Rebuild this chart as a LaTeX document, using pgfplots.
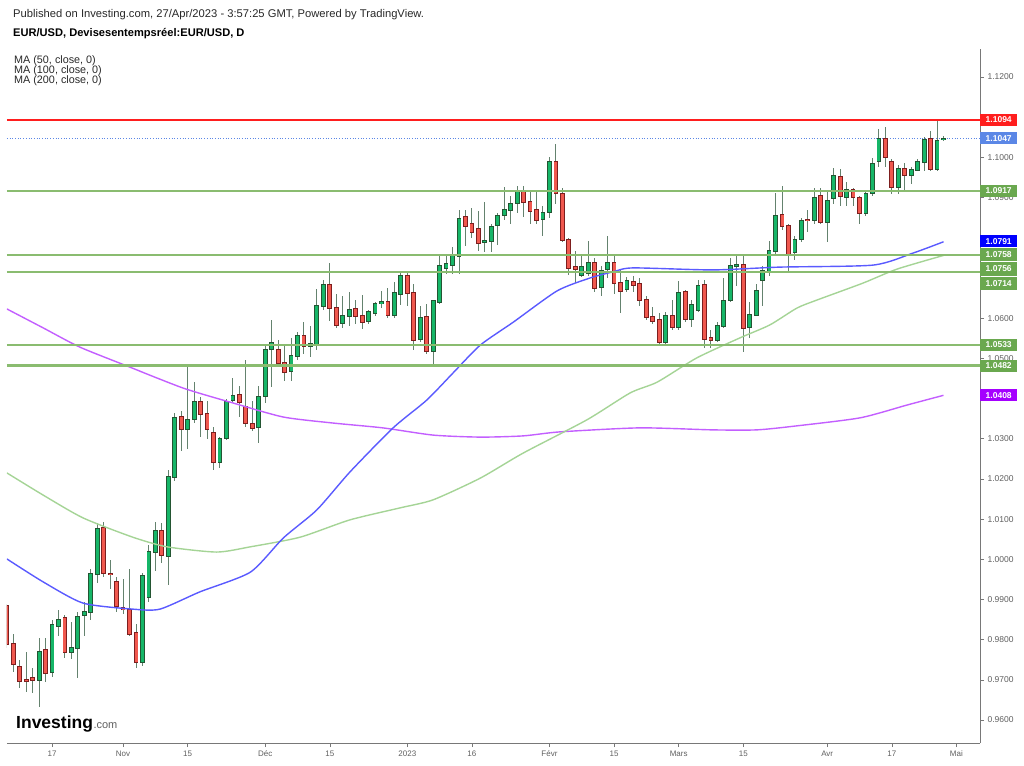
\documentclass[border=0pt]{standalone}
\usepackage{pgfplots}
\usepackage{pgfplotstable}
\pgfplotsset{compat=1.18}
\usepackage{fontspec}
\setmainfont{Liberation Sans}

\definecolor{gfill}{RGB}{22,182,104}
\definecolor{gedge}{RGB}{35,85,50}
\definecolor{rfill}{RGB}{240,88,78}
\definecolor{redge}{RGB}{125,30,30}
\definecolor{wick}{RGB}{100,130,110}
\definecolor{maA}{RGB}{90,90,255}
\definecolor{maB}{RGB}{165,212,150}
\definecolor{maC}{RGB}{195,95,255}
\definecolor{hgreen}{RGB}{138,188,112}
\definecolor{bgreen}{RGB}{106,168,79}
\definecolor{lvlred}{RGB}{255,30,30}
\definecolor{bcur}{RGB}{91,135,230}
\definecolor{bblue}{RGB}{0,0,255}
\definecolor{bpurple}{RGB}{165,0,255}
\definecolor{axgray}{RGB}{120,120,120}
\definecolor{labgray}{RGB}{95,95,95}
\definecolor{hdr}{RGB}{40,40,40}

\pgfplotstableread{
x o h l c
-7 0.9885 0.9890 0.9780 0.9790
-6 0.9790 0.9815 0.9720 0.9740
-5 0.9732 0.9750 0.9680 0.9698
-4 0.9700 0.9769 0.9670 0.9697
-3 0.9705 0.9730 0.9667 0.9700
-2 0.9700 0.9805 0.9632 0.9770
-1 0.9775 0.9805 0.9695 0.9718
0 0.9720 0.9850 0.9707 0.9838
1 0.9835 0.9873 0.9810 0.9850
2 0.9855 0.9862 0.9755 0.9768
3 0.9770 0.9845 0.9752 0.9780
4 0.9780 0.9868 0.9705 0.9858
5 0.9862 0.9895 0.9808 0.9870
6 0.9868 0.9976 0.9848 0.9965
7 0.9963 1.0090 0.9941 1.0075
8 1.0078 1.0093 0.9955 0.9965
9 0.9965 0.9998 0.9925 0.9962
10 0.9945 0.9955 0.9870 0.9883
11 0.9880 0.9952 0.9865 0.9875
12 0.9875 0.9975 0.9810 0.9815
13 0.9817 0.9840 0.9730 0.9745
14 0.9745 0.9965 0.9735 0.9960
15 0.9905 1.0035 0.9895 1.0018
16 1.0018 1.0093 0.9972 1.0070
17 1.0072 1.0090 0.9992 1.0010
18 1.0008 1.0222 0.9935 1.0205
19 1.0205 1.0365 1.0195 1.0352
20 1.0355 1.0370 1.0270 1.0325
21 1.0325 1.0480 1.0275 1.0348
22 1.0350 1.0440 1.0340 1.0392
23 1.0392 1.0405 1.0305 1.0362
24 1.0362 1.0395 1.0300 1.0325
25 1.0315 1.0330 1.0222 1.0242
26 1.0242 1.0305 1.0226 1.0300
27 1.0302 1.0400 1.0298 1.0392
28 1.0395 1.0450 1.0390 1.0407
29 1.0408 1.0430 1.0355 1.0392
30 1.0380 1.0497 1.0330 1.0338
31 1.0337 1.0395 1.0320 1.0327
32 1.0328 1.0430 1.0290 1.0405
33 1.0405 1.0530 1.0390 1.0522
34 1.0522 1.0595 1.0430 1.0538
35 1.0520 1.0545 1.0478 1.0488
36 1.0490 1.0535 1.0443 1.0467
37 1.0467 1.0550 1.0443 1.0505
38 1.0505 1.0565 1.0497 1.0555
39 1.0555 1.0590 1.0510 1.0530
40 1.0530 1.0580 1.0503 1.0535
41 1.0532 1.0673 1.0520 1.0630
42 1.0630 1.0695 1.0620 1.0682
43 1.0682 1.0737 1.0592 1.0625
44 1.0625 1.0660 1.0575 1.0582
45 1.0588 1.0655 1.0575 1.0605
46 1.0605 1.0665 1.0580 1.0620
47 1.0622 1.0645 1.0585 1.0605
48 1.0605 1.0658 1.0573 1.0590
49 1.0592 1.0620 1.0585 1.0615
50 1.0612 1.0640 1.0605 1.0635
51 1.0637 1.0668 1.0625 1.0640
52 1.0640 1.0675 1.0600 1.0607
53 1.0608 1.0690 1.0600 1.0663
54 1.0660 1.0715 1.0633 1.0705
55 1.0705 1.0712 1.0630 1.0662
56 1.0662 1.0685 1.0520 1.0546
57 1.0548 1.0630 1.0540 1.0600
58 1.0603 1.0635 1.0512 1.0518
59 1.0518 1.0645 1.0482 1.0643
60 1.0640 1.0760 1.0635 1.0730
61 1.0725 1.0760 1.0710 1.0735
62 1.0733 1.0777 1.0710 1.0755
63 1.0755 1.0868 1.0710 1.0848
64 1.0853 1.0870 1.0780 1.0828
65 1.0835 1.0875 1.0800 1.0815
66 1.0822 1.0867 1.0767 1.0787
67 1.0790 1.0888 1.0765 1.0792
68 1.0792 1.0835 1.0765 1.0828
69 1.0832 1.0862 1.0782 1.0855
70 1.0857 1.0927 1.0845 1.0870
71 1.0870 1.0905 1.0835 1.0885
72 1.0885 1.0930 1.0862 1.0915
73 1.0915 1.0930 1.0852 1.0890
74 1.0890 1.0920 1.0835 1.0867
75 1.0870 1.0915 1.0835 1.0845
76 1.0847 1.0880 1.0805 1.0862
77 1.0863 1.1000 1.0850 1.0988
78 1.0988 1.1033 1.0885 1.0910
79 1.0910 1.0925 1.0790 1.0795
80 1.0795 1.0800 1.0708 1.0725
81 1.0727 1.0768 1.0687 1.0722
82 1.0708 1.0760 1.0703 1.0727
83 1.0712 1.0793 1.0705 1.0737
84 1.0737 1.0750 1.0665 1.0675
85 1.0678 1.0730 1.0655 1.0718
86 1.0722 1.0805 1.0700 1.0738
87 1.0738 1.0760 1.0660 1.0688
88 1.0687 1.0720 1.0613 1.0667
89 1.0673 1.0703 1.0665 1.0693
90 1.0690 1.0705 1.0665 1.0683
91 1.0685 1.0700 1.0630 1.0645
92 1.0645 1.0655 1.0595 1.0603
93 1.0603 1.0628 1.0585 1.0593
94 1.0595 1.0612 1.0535 1.0540
95 1.0540 1.0615 1.0535 1.0605
96 1.0605 1.0645 1.0570 1.0577
97 1.0577 1.0692 1.0570 1.0663
98 1.0665 1.0670 1.0590 1.0597
99 1.0597 1.0645 1.0578 1.0633
100 1.0620 1.0695 1.0615 1.0680
101 1.0682 1.0695 1.0525 1.0548
102 1.0550 1.0570 1.0525 1.0545
103 1.0545 1.0590 1.0540 1.0580
104 1.0580 1.0700 1.0575 1.0642
105 1.0645 1.0750 1.0640 1.0730
106 1.0730 1.0760 1.0680 1.0733
107 1.0733 1.0758 1.0516 1.0575
108 1.0578 1.0640 1.0550 1.0608
109 1.0608 1.0685 1.0605 1.0668
110 1.0695 1.0730 1.0630 1.0717
111 1.0717 1.0792 1.0705 1.0768
112 1.0768 1.0912 1.0760 1.0855
113 1.0857 1.0930 1.0820 1.0830
114 1.0830 1.0835 1.0713 1.0760
115 1.0765 1.0805 1.0745 1.0795
116 1.0797 1.0850 1.0790 1.0843
117 1.0845 1.0870 1.0815 1.0843
118 1.0845 1.0925 1.0835 1.0900
119 1.0905 1.0925 1.0835 1.0840
120 1.0838 1.0918 1.0790 1.0893
121 1.0898 1.0973 1.0885 1.0953
122 1.0952 1.0970 1.0880 1.0903
123 1.0902 1.0940 1.0880 1.0920
124 1.0920 1.0925 1.0880 1.0900
125 1.0900 1.0905 1.0835 1.0862
126 1.0862 1.0918 1.0855 1.0910
127 1.0910 1.0998 1.0905 1.0985
128 1.0990 1.1070 1.0975 1.1045
129 1.1045 1.1075 1.0975 1.1000
130 1.0990 1.0995 1.0910 1.0925
131 1.0925 1.0980 1.0910 1.0972
132 1.0972 1.0985 1.0915 1.0955
133 1.0955 1.0975 1.0935 1.0970
134 1.0968 1.0995 1.0965 1.0988
135 1.0988 1.1050 1.0965 1.1043
136 1.1045 1.1065 1.0965 1.0972
137 1.0972 1.1095 1.0967 1.1040
138 1.1045 1.1052 1.1040 1.1047
}\ohlc

\begin{document}
\begin{tikzpicture}[x=1pt,y=1pt]

\node[anchor=west, inner sep=0pt, text=hdr, font=\fontsize{11.2}{13}\selectfont] at (13,750)
  {Published on Investing.com, 27/Apr/2023 - 3:57:25 GMT, Powered by TradingView.};
\node[anchor=west, inner sep=0pt, text=black, font=\fontsize{11.1}{13}\selectfont\bfseries] at (13,731)
  {EUR/USD, Devisesentempsréel:EUR/USD, D};
\node[anchor=west, inner sep=0pt, text=hdr, font=\fontsize{10.8}{11}\selectfont] at (14,704) {MA (50, close, 0)};
\node[anchor=west, inner sep=0pt, text=hdr, font=\fontsize{10.8}{11}\selectfont] at (14,694.3) {MA (100, close, 0)};
\node[anchor=west, inner sep=0pt, text=hdr, font=\fontsize{10.8}{11}\selectfont] at (14,684.6) {MA (200, close, 0)};

\begin{axis}[
  at={(7pt,22pt)}, anchor=south west,
  scale only axis, width=973pt, height=694pt,
  xmin=-6.97, xmax=143.65, ymin=0.95429, ymax=1.12697,
  axis x line*=bottom, axis y line*=right,
  axis line style={-, draw=axgray, line width=0.8pt},
  xtick={0,11,21,33,43,55,65,77,87,97,107,120,130,140},
  xticklabels={17,Nov,15,Déc,15,2023,16,Févr,15,Mars,15,Avr,17,Mai},
  ytick={0.96,0.97,0.98,0.99,1.00,1.01,1.02,1.03,1.04,1.05,1.06,1.07,1.08,1.09,1.10,1.11,1.12},
  yticklabels={0.9600,0.9700,0.9800,0.9900,1.0000,1.0100,1.0200,1.0300,,1.0500,1.0600,,,1.0900,1.1000,,1.1200},
  tick align=outside, major tick length=4pt,
  tick style={draw=axgray, line width=0.6pt},
  xticklabel style={font=\fontsize{8}{9}\selectfont, text=labgray, text height=6pt, text depth=1.5pt},
  yticklabel style={font=\fontsize{8.5}{10}\selectfont, text=labgray},
  clip mode=individual,
]
% current price dotted line
\addplot[draw=bcur, dotted, line width=0.7pt] coordinates {(-6.97,1.1047) (143.65,1.1047)};

% wicks
\addplot[draw=none, mark=none,
  error bars/.cd, y dir=both, y explicit, error mark=none,
  error bar style={draw=wick, line width=1pt}]
  table[x=x, y expr={(\thisrow{h}+\thisrow{l})/2}, y error expr={(\thisrow{h}-\thisrow{l})/2}] {\ohlc};

% green bodies
\addplot[draw=none, mark=none,
  error bars/.cd, y dir=both, y explicit, error mark=none,
  error bar style={draw=gedge, line width=4.8pt}]
  table[x=x, y expr={\thisrow{c}>=\thisrow{o} ? (\thisrow{o}+\thisrow{c})/2 : 1.2},
        y error expr={abs(\thisrow{c}-\thisrow{o})/2+0.00022}] {\ohlc};
\addplot[draw=none, mark=none,
  error bars/.cd, y dir=both, y explicit, error mark=none,
  error bar style={draw=gfill, line width=3pt}]
  table[x=x, y expr={\thisrow{c}>=\thisrow{o} ? (\thisrow{o}+\thisrow{c})/2 : 1.2},
        y error expr={max(abs(\thisrow{c}-\thisrow{o})/2-0.00003,0)}] {\ohlc};

% red bodies
\addplot[draw=none, mark=none,
  error bars/.cd, y dir=both, y explicit, error mark=none,
  error bar style={draw=redge, line width=4.8pt}]
  table[x=x, y expr={\thisrow{c}<\thisrow{o} ? (\thisrow{o}+\thisrow{c})/2 : 1.2},
        y error expr={abs(\thisrow{c}-\thisrow{o})/2+0.00022}] {\ohlc};
\addplot[draw=none, mark=none,
  error bars/.cd, y dir=both, y explicit, error mark=none,
  error bar style={draw=rfill, line width=3pt}]
  table[x=x, y expr={\thisrow{c}<\thisrow{o} ? (\thisrow{o}+\thisrow{c})/2 : 1.2},
        y error expr={max(abs(\thisrow{c}-\thisrow{o})/2-0.00003,0)}] {\ohlc};

% moving averages
\addplot[draw=maC, line width=1.4pt, smooth, tension=0.4] coordinates {
(-7,1.0623) (-1.4,1.0576) (4.3,1.0528) (11.6,1.0481) (20.3,1.0426) (28,1.0389)
(35.8,1.0354) (43.5,1.0339) (51.2,1.0327) (59,1.0309) (66.3,1.0304) (72.9,1.0307)
(78.6,1.0317) (91,1.0327) (102.3,1.0322) (109.1,1.0322) (115.3,1.0332) (125.1,1.0352)
(132.4,1.0384) (138,1.0408)};
\addplot[draw=maB, line width=1.4pt, smooth, tension=0.4] coordinates {
(-7,1.0215) (-1.4,1.0160) (4.8,1.0103) (12.5,1.0055) (17.8,1.0031) (25.5,1.0018)
(30.7,1.0031) (38.4,1.0055) (46.1,1.0098) (53.9,1.0128) (59,1.0148) (66.3,1.0202)
(72.9,1.0264) (82.8,1.0347) (89.5,1.0414) (93.7,1.0441) (99.8,1.0501) (106.5,1.0551)
(111.1,1.0583) (115.3,1.0625) (118.4,1.0645) (125.5,1.0687) (130.8,1.0722) (138,1.0756)};
\addplot[draw=maA, line width=1.4pt, smooth, tension=0.4] coordinates {
(-7,1.0001) (-1.4,0.9944) (4.8,0.9891) (12.5,0.9876) (16.7,0.9876) (22.9,0.9919)
(30.7,0.9968) (35.8,1.0053) (41,1.0123) (46.1,1.0217) (52.8,1.0327) (58,1.0396)
(62.1,1.0464) (66.3,1.0533) (71.4,1.0590) (78.2,1.0668) (83.3,1.0700) (86.8,1.0715)
(89.9,1.0725) (102.3,1.0720) (112.7,1.0727) (127.1,1.0732) (133.3,1.0762) (138,1.0790)};

% horizontal levels
\addplot[draw=hgreen, line width=2.2pt] coordinates {(-6.97,1.0917) (143.65,1.0917)};
\addplot[draw=hgreen, line width=2.2pt] coordinates {(-6.97,1.0758) (143.65,1.0758)};
\addplot[draw=hgreen, line width=2.2pt] coordinates {(-6.97,1.0714) (143.65,1.0714)};
\addplot[draw=hgreen, line width=2.2pt] coordinates {(-6.97,1.0533) (143.65,1.0533)};
\addplot[draw=hgreen, line width=2.2pt] coordinates {(-6.97,1.0482) (143.65,1.0482)};
\addplot[draw=lvlred, line width=1.8pt] coordinates {(-6.97,1.1094) (143.65,1.1094)};

% price label boxes
\tikzset{pbox/.style={anchor=west, inner sep=0pt, minimum width=37pt, minimum height=12pt,
  text=white, font=\fontsize{8.5}{10}\selectfont\bfseries}}
\node[pbox, fill=lvlred] at (axis cs:143.65,1.1094) {1.1094};
\node[pbox, fill=bcur] at (axis cs:143.65,1.1047) {1.1047};
\node[pbox, fill=bgreen] at (axis cs:143.65,1.0917) {1.0917};
\node[pbox, fill=bblue] at (axis cs:143.65,1.0791) {1.0791};
\node[pbox, fill=bgreen, minimum height=13.6pt] at (axis cs:143.65,1.0758) {1.0758};
\node[pbox, fill=bgreen, minimum height=13.6pt] at (axis cs:143.65,1.07223) {1.0756};
\node[pbox, fill=bgreen, minimum height=13.6pt] at (axis cs:143.65,1.06862) {1.0714};
\node[pbox, fill=bgreen] at (axis cs:143.65,1.0533) {1.0533};
\node[pbox, fill=bgreen] at (axis cs:143.65,1.0482) {1.0482};
\node[pbox, fill=bpurple] at (axis cs:143.65,1.0408) {1.0408};
\end{axis}

% Investing.com logo
\node[anchor=west, inner sep=0pt] at (16,41)
  {\fontsize{17.5}{17}\selectfont\bfseries Investing\hspace{0.5pt}{\fontsize{11}{11}\selectfont\mdseries\color{labgray}.com}};

\pgfresetboundingbox
\useasboundingbox (0,0) rectangle (1024,765);
\end{tikzpicture}
\end{document}
